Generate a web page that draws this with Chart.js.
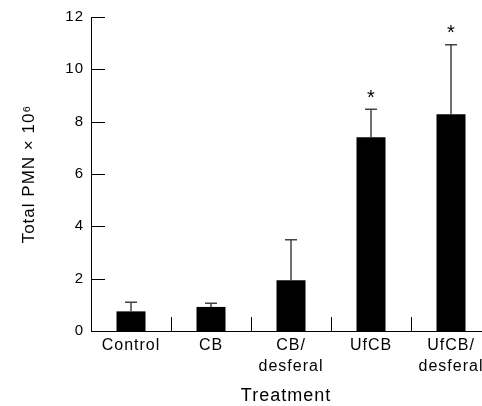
<!DOCTYPE html>
<html>
<head>
<meta charset="utf-8">
<script src="https://cdn.jsdelivr.net/npm/chart.js@4.4.1/dist/chart.umd.min.js"></script>
<style>
  html, body { margin: 0; padding: 0; background: #fff; }
  #wrap { width: 482px; height: 406px; }
</style>
</head>
<body>
<div id="wrap"><canvas id="chart"></canvas></div>
<script>
var categories = [['Control'], ['CB'], ['CB/', 'desferal'], ['UfCB'], ['UfCB/', 'desferal']];
var means = [0.75, 0.92, 1.94, 7.40, 8.28];
var errors = [0.35, 0.14, 1.55, 1.07, 2.66];
var marks = ['', '', '', '*', '*'];
var yTicks = [0, 2, 4, 6, 8, 10, 12];

var FONT = '"Liberation Sans", Arial, Helvetica, sans-serif';

// the original type is a wide helvetica, a little tracking gets close
var spacing = {
    id: 'spacing',
    beforeLayout: function (chart) { chart.ctx.letterSpacing = '1px'; },
    beforeDraw: function (chart) { chart.ctx.letterSpacing = '1px'; }
};

// error bars, asterisks and inside tick marks
var extras = {
    id: 'extras',
    afterDatasetsDraw: function (chart) {
        var ctx = chart.ctx;
        var x = chart.scales.x, y = chart.scales.y;
        var area = chart.chartArea;
        ctx.save();
        ctx.strokeStyle = '#444';
        ctx.lineWidth = 1.5;
        means.forEach(function (m, i) {
            var px = x.getPixelForValue(i + 1);
            var top = y.getPixelForValue(m + errors[i]);
            var base = y.getPixelForValue(m);
            ctx.beginPath();
            ctx.moveTo(px, base);
            ctx.lineTo(px, top);
            ctx.moveTo(px - 6, top);
            ctx.lineTo(px + 6, top);
            ctx.stroke();
            if (marks[i]) {
                ctx.fillStyle = '#000';
                ctx.font = '20px ' + FONT;
                ctx.letterSpacing = '0px';
                ctx.textAlign = 'center';
                ctx.textBaseline = 'middle';
                ctx.fillText(marks[i], px, top - 11);
            }
        });
        ctx.strokeStyle = '#000';
        ctx.lineWidth = 1;
        yTicks.forEach(function (v) {
            var py = Math.round(y.getPixelForValue(v)) + 0.5;
            ctx.beginPath();
            ctx.moveTo(area.left, py);
            ctx.lineTo(area.left + 14, py);
            ctx.stroke();
        });
        for (var i = 1; i < means.length; i++) {
            var px = Math.round(x.getPixelForValue(i + 0.5)) + 0.5;
            ctx.beginPath();
            ctx.moveTo(px, area.bottom);
            ctx.lineTo(px, area.bottom - 14);
            ctx.stroke();
        }
        ctx.restore();
    }
};

new Chart(document.getElementById('chart'), {
    type: 'bar',
    data: {
        datasets: [{
            data: means.map(function (m, i) { return {x: i + 1, y: m}; }),
            backgroundColor: '#000',
            borderWidth: 0,
            barPercentage: 0.3625,
            categoryPercentage: 1
        }]
    },
    options: {
        responsive: true,
        maintainAspectRatio: false,
        animation: false,
        layout: { padding: { top: 17, right: 1, bottom: 0, left: 0 } },
        plugins: { legend: { display: false }, tooltip: { enabled: false } },
        scales: {
            x: {
                type: 'linear',
                offset: false,
                min: 0.5,
                max: 5.375,
                afterBuildTicks: function (scale) {
                    scale.ticks = [1, 2, 3, 4, 5].map(function (v) { return {value: v}; });
                },
                afterFit: function (scale) {
                    scale.height = 75;
                    scale.paddingLeft = 0;
                    scale.paddingRight = 0;
                },
                grid: { display: false, drawTicks: false },
                border: { display: true, color: '#000', width: 1 },
                ticks: {
                    color: '#000',
                    padding: 4,
                    maxRotation: 0,
                    autoSkip: false,
                    font: { family: FONT, size: 16, lineHeight: 1.3 },
                    callback: function (v) { return categories[v - 1] || ''; }
                },
                title: {
                    display: true,
                    text: 'Treatment',
                    color: '#000',
                    font: { family: FONT, size: 18, lineHeight: 1 },
                    padding: { top: 0, bottom: 1 }
                }
            },
            y: {
                min: 0,
                max: 12,
                afterBuildTicks: function (scale) {
                    scale.ticks = yTicks.map(function (v) { return {value: v}; });
                },
                afterFit: function (scale) { scale.width = 91; },
                grid: { display: false, drawTicks: false },
                border: { display: true, color: '#000', width: 1 },
                ticks: {
                    color: '#000',
                    padding: 7,
                    font: { family: FONT, size: 15 }
                },
                title: {
                    display: true,
                    text: 'Total PMN \u00d7 10\u2076',
                    color: '#000',
                    font: { family: FONT, size: 17, lineHeight: 1 },
                    padding: { top: 21, bottom: 0 }
                }
            }
        }
    },
    plugins: [spacing, extras]
});
</script>
</body>
</html>
